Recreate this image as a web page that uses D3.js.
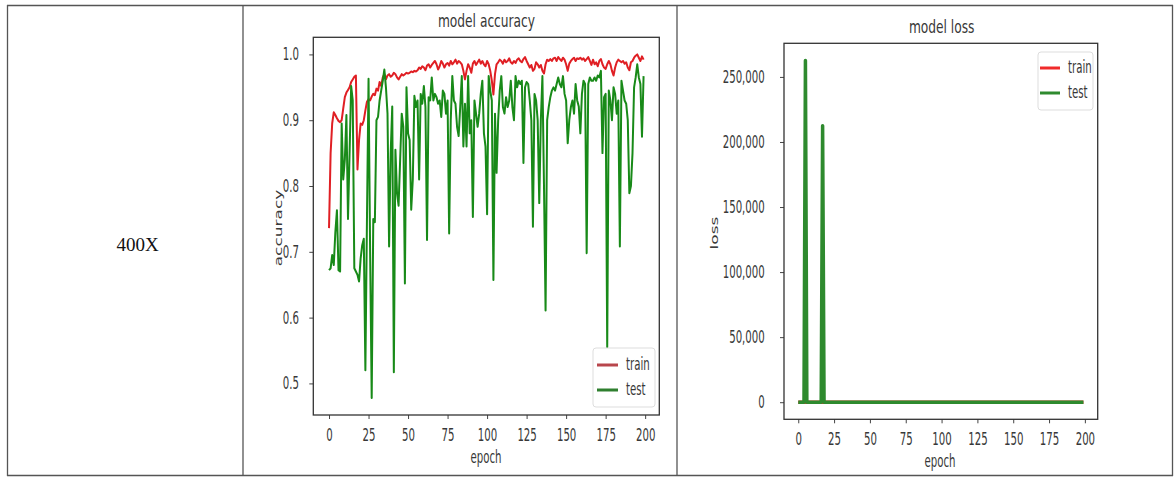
<!DOCTYPE html>
<html>
<head>
<meta charset="utf-8">
<script src="https://cdn.jsdelivr.net/npm/d3@7"></script>
<style>
    body { margin: 0; background: #fff; }
    text { font-family: "DejaVu Sans", sans-serif; fill: #383838; }
</style>
</head>
<body>
<div id="chart"></div>
<script>
// values
var epochs = d3.range(200);
var rowLabel = "400X";

var trainAcc = [
    0.736,0.850,0.895,0.912,0.908,0.903,0.899,0.897,0.900,0.918,
    0.935,0.942,0.946,0.950,0.958,0.962,0.966,0.968,0.825,0.870,
    0.895,0.893,0.900,0.915,0.928,0.932,0.930,0.936,0.940,0.938,
    0.948,0.945,0.958,0.952,0.965,0.970,0.962,0.968,0.970,0.966,
    0.968,0.972,0.970,0.965,0.962,0.966,0.970,0.968,0.970,0.972,
    0.971,0.972,0.974,0.973,0.975,0.974,0.976,0.980,0.978,0.982,
    0.980,0.976,0.983,0.985,0.980,0.984,0.987,0.990,0.985,0.977,
    0.982,0.990,0.986,0.980,0.985,0.987,0.983,0.990,0.985,0.988,
    0.992,0.986,0.990,0.988,0.985,0.975,0.962,0.975,0.985,0.980,
    0.972,0.986,0.990,0.984,0.988,0.992,0.986,0.990,0.985,0.982,
    0.990,0.985,0.975,0.960,0.939,0.970,0.985,0.988,0.992,0.990,
    0.986,0.992,0.988,0.990,0.994,0.988,0.986,0.990,0.987,0.992,
    0.994,0.990,0.988,0.993,0.996,0.990,0.985,0.980,0.984,0.975,
    0.978,0.988,0.985,0.980,0.984,0.975,0.971,0.985,0.992,0.990,
    0.993,0.990,0.994,0.995,0.990,0.996,0.993,0.990,0.995,0.992,
    0.985,0.975,0.986,0.990,0.993,0.995,0.990,0.994,0.993,0.995,
    0.992,0.994,0.990,0.993,0.996,0.990,0.984,0.992,0.985,0.988,
    0.982,0.990,0.993,0.985,0.980,0.978,0.985,0.990,0.985,0.975,
    0.968,0.980,0.988,0.992,0.990,0.988,0.990,0.986,0.988,0.980,
    0.976,0.988,0.990,0.995,0.998,1.000,0.995,0.990,0.997,0.992
];

var testAcc = [
    0.672,0.675,0.695,0.680,0.730,0.763,0.672,0.670,0.895,0.810,
    0.840,0.908,0.750,0.850,0.952,0.930,0.675,0.670,0.665,0.655,
    0.690,0.710,0.720,0.520,0.750,0.963,0.700,0.478,0.750,0.745,
    0.900,0.905,0.930,0.945,0.960,0.977,0.950,0.910,0.708,0.850,
    0.921,0.517,0.855,0.790,0.770,0.840,0.910,0.890,0.652,0.950,
    0.880,0.870,0.764,0.810,0.937,0.920,0.930,0.810,0.940,0.925,
    0.952,0.920,0.718,0.935,0.930,0.965,0.930,0.940,0.935,0.925,
    0.930,0.905,0.945,0.940,0.910,0.930,0.728,0.900,0.967,0.930,
    0.925,0.890,0.876,0.920,0.967,0.860,0.925,0.860,0.967,0.880,
    0.900,0.753,0.930,0.910,0.890,0.910,0.940,0.960,0.880,0.860,
    0.757,0.967,0.945,0.930,0.657,0.910,0.820,0.900,0.945,0.967,
    0.920,0.910,0.935,0.920,0.930,0.960,0.920,0.900,0.967,0.950,
    0.960,0.955,0.960,0.835,0.950,0.958,0.955,0.930,0.900,0.738,
    0.940,0.930,0.900,0.774,0.900,0.967,0.800,0.611,0.900,0.920,
    0.935,0.945,0.950,0.945,0.955,0.965,0.955,0.950,0.967,0.940,
    0.930,0.865,0.900,0.920,0.930,0.910,0.955,0.930,0.921,0.880,
    0.940,0.960,0.955,0.698,0.955,0.965,0.960,0.960,0.965,0.960,
    0.968,0.965,0.975,0.850,0.935,0.940,0.555,0.945,0.930,0.900,
    0.950,0.940,0.910,0.930,0.708,0.960,0.945,0.930,0.925,0.900,
    0.789,0.800,0.850,0.950,0.965,0.985,0.965,0.955,0.875,0.967
];

var trainLoss = [
    0.62,0.41,0.30,0.26,0.27,0.28,0.29,0.29,0.28,0.25,
    0.21,0.19,0.17,0.16,0.14,0.13,0.12,0.11,0.45,0.33,
    0.29,0.30,0.28,0.24,0.21,0.20,0.20,0.19,0.18,0.18,
    0.16,0.16,0.13,0.14,0.11,0.10,0.11,0.10,0.09,0.10,
    0.10,0.09,0.09,0.10,0.11,0.10,0.09,0.09,0.09,0.08,
    0.08,0.08,0.08,0.08,0.07,0.08,0.07,0.06,0.07,0.06,
    0.06,0.07,0.05,0.05,0.06,0.05,0.04,0.03,0.05,0.07,
    0.05,0.03,0.04,0.06,0.05,0.04,0.05,0.03,0.04,0.04,
    0.03,0.04,0.03,0.04,0.04,0.07,0.10,0.07,0.04,0.06,
    0.08,0.04,0.03,0.05,0.04,0.03,0.04,0.03,0.04,0.05,
    0.03,0.05,0.07,0.11,0.17,0.08,0.05,0.04,0.03,0.03,
    0.04,0.03,0.04,0.03,0.02,0.04,0.04,0.03,0.04,0.03,
    0.02,0.03,0.04,0.02,0.01,0.03,0.04,0.05,0.05,0.07,
    0.06,0.04,0.04,0.06,0.05,0.07,0.08,0.05,0.03,0.03,
    0.02,0.03,0.02,0.02,0.03,0.01,0.02,0.03,0.02,0.02,
    0.04,0.07,0.04,0.03,0.02,0.02,0.03,0.02,0.02,0.02,
    0.02,0.02,0.03,0.02,0.01,0.03,0.05,0.02,0.04,0.04,
    0.05,0.03,0.02,0.04,0.06,0.06,0.04,0.03,0.04,0.07,
    0.09,0.06,0.04,0.02,0.03,0.03,0.03,0.04,0.03,0.06,
    0.07,0.04,0.03,0.02,0.01,0.01,0.02,0.03,0.01,0.02
];

var testLoss = [
    0.95,1.10,0.62,0.88,0.71,262700,0.98,1.05,0.41,0.66,
    0.52,0.35,0.92,0.57,0.19,0.30,1.12,212500,1.20,1.35,
    1.08,0.97,0.94,2.10,0.88,0.15,1.30,2.80,1.02,1.05,
    0.37,0.34,0.25,0.21,0.16,0.12,0.20,0.31,1.30,0.55,
    0.29,2.40,0.60,0.85,0.95,0.58,0.33,0.40,1.60,0.19,
    0.42,0.47,1.05,0.80,0.25,0.31,0.28,0.82,0.22,0.29,
    0.18,0.30,1.25,0.24,0.26,0.13,0.27,0.23,0.25,0.29,
    0.27,0.38,0.21,0.23,0.35,0.27,1.20,0.40,0.13,0.26,
    0.29,0.44,0.50,0.30,0.13,0.55,0.29,0.55,0.13,0.48,
    0.40,1.10,0.27,0.35,0.44,0.36,0.22,0.16,0.48,0.58,
    1.15,0.13,0.20,0.27,1.70,0.36,0.80,0.40,0.20,0.13,
    0.31,0.35,0.24,0.30,0.27,0.16,0.31,0.40,0.13,0.19,
    0.16,0.18,0.16,0.75,0.19,0.17,0.18,0.27,0.40,1.30,
    0.23,0.27,0.40,1.05,0.40,0.13,0.90,2.10,0.40,0.31,
    0.25,0.21,0.19,0.21,0.17,0.14,0.17,0.19,0.13,0.23,
    0.27,0.60,0.40,0.31,0.27,0.35,0.17,0.27,0.30,0.48,
    0.23,0.16,0.18,1.45,0.18,0.14,0.16,0.16,0.14,0.16,
    0.13,0.14,0.10,0.65,0.25,0.23,2.30,0.21,0.27,0.40,
    0.19,0.23,0.36,0.27,1.40,0.16,0.21,0.27,0.30,0.40,
    1.00,0.95,0.70,0.19,0.14,0.06,0.14,0.18,0.55,0.13
];

var xTicks = [0, 25, 50, 75, 100, 125, 150, 175, 200];
var accTicks = [0.5, 0.6, 0.7, 0.8, 0.9, 1.0];
var lossTicks = [0, 50000, 100000, 150000, 200000, 250000];
var seriesNames = ["train", "test"];

var width = 1175, height = 479;
var squeeze = 0.6;   // the source picture is squashed sideways

var svg = d3.select("#chart").append("svg")
    .attr("width", width)
    .attr("height", height);

// table grid around the two plots
var grid = svg.append("g").attr("stroke", "#555").attr("stroke-width", 1.3);
grid.append("line").attr("x1", 7).attr("x2", 1173).attr("y1", 5.5).attr("y2", 5.5);
grid.append("line").attr("x1", 7).attr("x2", 1173).attr("y1", 475.5).attr("y2", 475.5);
[7.5, 243, 677, 1172.5].forEach(function (x) {
    grid.append("line").attr("x1", x).attr("x2", x).attr("y1", 5).attr("y2", 476);
});

svg.append("text")
    .attr("x", 137.5).attr("y", 251)
    .attr("text-anchor", "middle")
    .style("font-family", "'Liberation Serif', serif")
    .style("font-size", "19px")
    .style("fill", "#111")
    .text(rowLabel);

function panel(o) {
    var g = svg.append("g");

    var x = d3.scaleLinear().domain([-9.95, 208.95]).range([o.left, o.right]);
    var y = d3.scaleLinear().domain(o.yDomain).range([o.bottom, o.top]);

    var xAxis = g.append("g")
        .attr("transform", "translate(0," + o.bottom + ")")
        .call(d3.axisBottom(x).tickValues(xTicks).tickSize(4).tickPadding(10));
    var yAxis = g.append("g")
        .attr("transform", "translate(" + o.left + ",0)")
        .call(d3.axisLeft(y).tickValues(o.yTicks).tickFormat(d3.format(o.fmt))
            .tickSize(4).tickPadding(o.yPad));

    [xAxis, yAxis].forEach(function (a) {
        a.select(".domain").remove();
        a.selectAll(".tick line").attr("stroke", "#444");
        a.selectAll(".tick text")
            .attr("fill", null)
            .style("font-family", "'DejaVu Sans', sans-serif")
            .style("font-size", "17px")
            .style("fill", "#383838")
            .attr("transform", "scale(" + squeeze + ",1)");
    });

    var line = d3.line()
        .x(function (d, i) { return x(epochs[i]); })
        .y(function (d) { return y(d); });

    o.series.forEach(function (s) {
        g.append("path")
            .datum(s.values)
            .attr("fill", "none")
            .attr("stroke", s.color)
            .attr("stroke-width", o.lw)
            .attr("stroke-linejoin", "round")
            .attr("d", line);
    });

    g.append("rect")
        .attr("x", o.left).attr("y", o.top)
        .attr("width", o.right - o.left).attr("height", o.bottom - o.top)
        .attr("fill", "none").attr("stroke", "#333").attr("stroke-width", 1.3);

    g.append("text")
        .attr("transform", "translate(" + o.titleX + "," + o.titleY + ") scale(0.68,1)")
        .attr("text-anchor", "middle")
        .style("font-size", "18px")
        .text(o.title);

    g.append("text")
        .attr("transform", "translate(" + o.xlabX + "," + o.xlabY + ") scale(" + squeeze + ",1)")
        .attr("text-anchor", "middle")
        .style("font-size", "17px")
        .text("epoch");

    g.append("text")
        .attr("transform", "translate(" + o.ylabX + "," + o.ylabY + ") rotate(-90) scale(1," + squeeze + ")")
        .attr("text-anchor", "middle")
        .style("font-size", "17px")
        .text(o.ylabel);

    // legend
    var lg = o.legend;
    g.append("rect")
        .attr("x", lg.x0).attr("y", lg.y0)
        .attr("width", lg.x1 - lg.x0).attr("height", lg.y1 - lg.y0)
        .attr("rx", 3)
        .attr("fill", "#fff").attr("fill-opacity", 0.8)
        .attr("stroke", "#ddd");
    o.series.forEach(function (s, i) {
        var ly = lg.rows[i];
        g.append("line")
            .attr("x1", lg.lx0).attr("x2", lg.lx1)
            .attr("y1", ly).attr("y2", ly)
            .attr("stroke", s.legendColor || s.color)
            .attr("stroke-width", 3);
        g.append("text")
            .attr("transform", "translate(" + lg.tx + "," + (ly + 5) + ") scale(" + squeeze + ",1)")
            .style("font-size", "17px")
            .text(seriesNames[i]);
    });
}

panel({
    left: 313.3, right: 659.3, top: 37.3, bottom: 415,
    yDomain: [0.452, 1.026], yTicks: accTicks, fmt: ".1f", yPad: 20,
    lw: 2,
    series: [
        {values: trainAcc, color: "#e01f24", legendColor: "#b8464c"},
        {values: testAcc, color: "#188a18", legendColor: "#2f7f2f"}
    ],
    title: "model accuracy", titleX: 486.5, titleY: 27,
    xlabX: 486, xlabY: 463,
    ylabel: "accuracy", ylabX: 282, ylabY: 228,
    legend: {x0: 593, x1: 655, y0: 348, y1: 407, rows: [365, 390], lx0: 597, lx1: 618, tx: 626}
});

panel({
    left: 784, right: 1097.7, top: 43.3, bottom: 419.3,
    yDomain: [-13135, 275835], yTicks: lossTicks, fmt: ",", yPad: 28,
    lw: 3.5,
    series: [
        {values: trainLoss, color: "#f02a2a"},
        {values: testLoss, color: "#2e8a2e"}
    ],
    title: "model loss", titleX: 941.7, titleY: 33,
    xlabX: 940, xlabY: 467,
    ylabel: "loss", ylabX: 718, ylabY: 233,
    legend: {x0: 1038, x1: 1093, y0: 52, y1: 110, rows: [68, 93], lx0: 1040, lx1: 1060, tx: 1068}
});
</script>
</body>
</html>
